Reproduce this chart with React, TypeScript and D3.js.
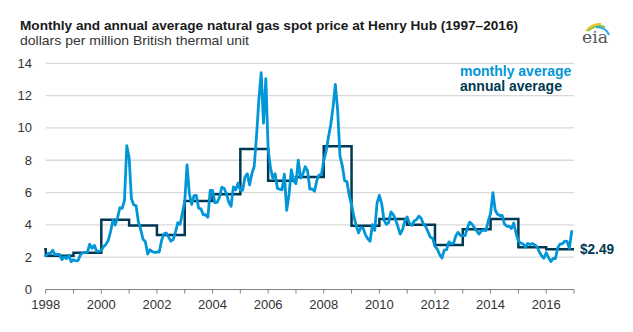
import React from 'react';
import * as d3 from 'd3';

const W = 633;
const H = 332;

const titleText = 'Monthly and annual average natural gas spot price at Henry Hub (1997–2016)';
const subtitleText = 'dollars per million British thermal unit';
const legendLabels = ['monthly average', 'annual average'];
const endLabel = '$2.49';

const startYear = 1998;
const endYear = 2017;

// monthly Henry Hub spot price, Jan 1998 .. Dec 2016
const monthly1998_2002 = [
  2.09, 2.23, 2.24, 2.43, 2.14, 2.17, 2.17, 1.85, 2.02, 1.91, 2.12, 1.72,
  1.85, 1.77, 1.79, 2.15, 2.26, 2.30, 2.31, 2.80, 2.55, 2.73, 2.37, 2.36,
  2.42, 2.66, 2.79, 3.04, 3.59, 4.29, 3.99, 4.43, 5.06, 5.02, 5.52, 8.90,
  8.17, 5.61, 5.23, 5.19, 4.19, 3.72, 3.11, 2.97, 2.19, 2.46, 2.34, 2.30,
  2.32, 2.32, 3.03, 3.43, 3.50, 3.26, 2.99, 3.09, 3.55, 4.13, 4.04, 4.74,
];
const monthly2003_2007 = [
  5.43, 7.71, 5.93, 5.26, 5.81, 5.82, 5.03, 4.99, 4.62, 4.63, 4.47, 6.13,
  6.14, 5.37, 5.39, 5.71, 6.33, 6.27, 5.93, 5.41, 5.15, 6.35, 6.17, 6.58,
  6.15, 6.14, 6.96, 7.16, 6.47, 7.18, 7.63, 9.53, 11.75, 13.42, 10.30, 13.05,
  8.69, 7.54, 6.89, 7.16, 6.25, 6.21, 6.17, 7.14, 4.90, 5.85, 7.41, 6.73,
  6.55, 8.00, 6.89, 7.16, 7.60, 7.35, 6.22, 6.22, 6.08, 6.74, 7.10, 7.11,
];
const monthly2008_2012 = [
  7.99, 8.54, 9.41, 10.18, 11.27, 12.69, 11.09, 8.26, 7.67, 6.74, 6.68, 5.82,
  5.24, 4.52, 3.96, 3.50, 3.83, 3.80, 3.38, 3.14, 2.99, 4.01, 3.66, 5.35,
  5.83, 5.32, 4.29, 4.03, 4.14, 4.80, 4.63, 4.32, 3.89, 3.43, 3.71, 4.25,
  4.49, 4.09, 3.97, 4.24, 4.31, 4.54, 4.42, 4.06, 3.90, 3.57, 3.24, 3.17,
  2.67, 2.50, 2.17, 1.95, 2.43, 2.46, 2.95, 2.84, 2.85, 3.32, 3.54, 3.34,
];
const monthly2013_2016 = [
  3.33, 3.33, 3.81, 4.17, 4.04, 3.83, 3.62, 3.43, 3.62, 3.68, 3.64, 4.24,
  4.71, 6.00, 4.90, 4.66, 4.58, 4.59, 4.05, 3.91, 3.92, 3.78, 4.12, 3.48,
  2.99, 2.87, 2.83, 2.61, 2.85, 2.78, 2.84, 2.77, 2.66, 2.34, 2.09, 1.93,
  2.28, 1.99, 1.73, 1.92, 1.92, 2.59, 2.82, 2.82, 2.99, 2.98, 2.55, 3.59,
];
const monthlyPrices = [...monthly1998_2002, ...monthly2003_2007, ...monthly2008_2012, ...monthly2013_2016];

const annualYears = [1997, 1998, 1999, 2000, 2001, 2002, 2003, 2004, 2005, 2006, 2007, 2008, 2009, 2010, 2011, 2012, 2013, 2014, 2015, 2016];
const annualPrices = [2.49, 2.09, 2.27, 4.31, 3.96, 3.38, 5.47, 5.89, 8.69, 6.73, 6.97, 8.86, 3.94, 4.37, 4.00, 2.75, 3.73, 4.37, 2.62, 2.49];

const yTicks = [0, 2, 4, 6, 8, 10, 12, 14];
const xLabelYears = [1998, 2000, 2002, 2004, 2006, 2008, 2010, 2012, 2014, 2016];
const xTickYears = d3.range(startYear, endYear + 1);

const LIGHT = '#0096d7';
const DARK = '#003953';
const FONT = '"Liberation Sans", Arial, sans-serif';

export default function App() {
  const x = d3.scaleLinear().domain([startYear, endYear]).range([45.7, 574]);
  const y = d3.scaleLinear().domain([0, 14]).range([289.5, 63.3]);

  const monthlyPts: [number, number][] = monthlyPrices.map((v, i) => [startYear + i / 12, v]);
  const monthlyPath = d3
    .line<[number, number]>()
    .x((d) => x(d[0]))
    .y((d) => y(d[1]))(monthlyPts) as string;

  const stepPts: [number, number][] = [];
  annualYears.forEach((yr, i) => {
    stepPts.push([yr, annualPrices[i]]);
    stepPts.push([yr + 1, annualPrices[i]]);
  });
  const annualPath = d3
    .line<[number, number]>()
    .x((d) => x(d[0]))
    .y((d) => y(d[1]))(stepPts) as string;

  return (
    <svg
      width={W}
      height={H}
      style={{ position: 'absolute', left: 0, top: 0, background: '#fff' }}
      fontFamily={FONT}
    >
      <defs>
        <clipPath id="plotClip">
          <rect x={x(startYear) - 1.5} y={0} width={x(endYear) - x(startYear) + 1.5} height={H} />
        </clipPath>
      </defs>
      <rect x={0} y={0} width={W} height={H} fill="#fff" />

      {/* title */}
      <text x={20} y={29.5} fontSize={13.5} fontWeight="bold" fill="#1a1a1a" textLength={498} lengthAdjust="spacingAndGlyphs">
        {titleText}
      </text>
      <text x={20} y={45} fontSize={13.5} fill="#333" textLength={229} lengthAdjust="spacingAndGlyphs">
        {subtitleText}
      </text>

      {/* eia logo */}
      <g>
        <path d="M586 31 Q592 23 601 24" fill="none" stroke="#f2c12e" strokeWidth={2} />
        <path d="M588 31 Q596 24 605 27" fill="none" stroke="#8cc63f" strokeWidth={2} />
        <path d="M596 27 Q606 27 609 35" fill="none" stroke="#29a8e0" strokeWidth={2} />
        <text x={582} y={43} fontSize={17} fontFamily='"DejaVu Serif", "Liberation Serif", serif' fill="#555" textLength={26} lengthAdjust="spacingAndGlyphs">
          eia
        </text>
      </g>

      {/* gridlines */}
      {yTicks.filter((t) => t > 0).map((t) => (
        <line key={t} x1={x(startYear)} x2={x(endYear)} y1={y(t)} y2={y(t)} stroke="#d9d9d9" strokeWidth={1.3} />
      ))}
      {/* y labels */}
      {yTicks.map((t) => (
        <text key={t} x={32} y={y(t) + 4.5} fontSize={13} textAnchor="end" fill="#333">
          {t}
        </text>
      ))}

      {/* x axis */}
      <line x1={x(startYear)} x2={x(endYear)} y1={y(0)} y2={y(0)} stroke="#808080" strokeWidth={1} />
      {xTickYears.map((yr) => (
        <line key={yr} x1={x(yr)} x2={x(yr)} y1={y(0)} y2={y(0) + 4} stroke="#808080" strokeWidth={1} />
      ))}
      {xLabelYears.map((yr) => (
        <text key={yr} x={x(yr)} y={309} fontSize={13} textAnchor="middle" fill="#333">
          {yr}
        </text>
      ))}

      {/* series */}
      <g clipPath="url(#plotClip)">
        <path d={annualPath} fill="none" stroke={DARK} strokeWidth={2.5} strokeLinejoin="miter" />
        <path d={monthlyPath} fill="none" stroke={LIGHT} strokeWidth={2.8} strokeLinejoin="round" strokeLinecap="round" />
      </g>

      {/* legend */}
      <text x={460} y={76} fontSize={14} fontWeight="bold" fill={LIGHT}>
        {legendLabels[0]}
      </text>
      <text x={460} y={91} fontSize={14} fontWeight="bold" fill={DARK}>
        {legendLabels[1]}
      </text>

      {/* end label */}
      <text x={580} y={y(annualPrices[annualPrices.length - 1]) + 5} fontSize={14} fontWeight="bold" fill={DARK} textLength={34} lengthAdjust="spacingAndGlyphs">
        {endLabel}
      </text>
    </svg>
  );
}
